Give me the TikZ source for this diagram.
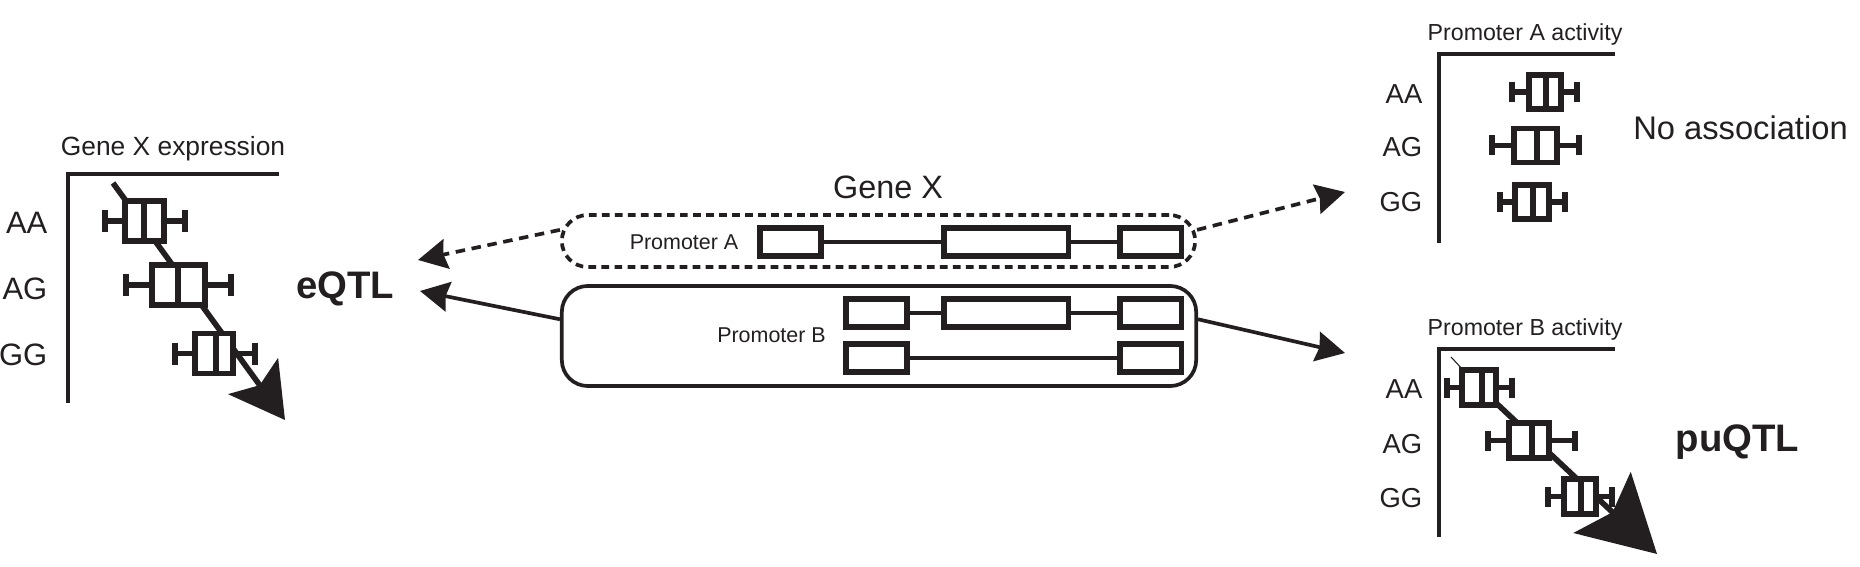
\documentclass[tikz,border=0pt]{standalone}
\usepackage{fontspec}
\setmainfont{Liberation Sans}
\usepackage{xcolor}
\usepackage{tikz}
\usetikzlibrary{arrows.meta}
\usetikzlibrary{positioning}

\definecolor{ink}{HTML}{231F20}

% y, whisker left, box left, median, box right, whisker right, half box, half cap
\newcommand{\bxplot}[8]{%
  \draw[fill=white] (#3,#1-#7) rectangle (#5,#1+#7);
  \draw (#4,#1-#7) -- (#4,#1+#7);
  \draw (#2,#1) -- (#3,#1) (#5,#1) -- (#6,#1);
  \draw (#2,#1-#8) -- (#2,#1+#8) (#6,#1-#8) -- (#6,#1+#8);
}

\begin{document}
\begin{tikzpicture}[x=0.01cm, y=-0.01cm, color=ink, line join=miter,
    exon/.style = {draw, line width=1.6pt, minimum width=0.614cm, minimum height=0.284cm, inner sep=0pt},
    exonlong/.style = {exon, minimum width=1.244cm},
    intron/.style = {line width=1.1pt},
    rbox/.style = {draw, line width=1.05pt, rounded corners=0.26cm, inner sep=0pt},
    dashline/.style = {dash pattern=on 2.2pt off 1.5pt},
    darrow/.style = {line width=1.05pt, dash pattern=on 2.7pt off 1.9pt, -{Stealth[length=0.29cm, width=0.30cm, inset=0.03cm]}},
    sarrow/.style = {line width=1.05pt, -{Stealth[length=0.29cm, width=0.30cm, inset=0.03cm]}},
    trend/.style = {line width=1.6pt},
    axis/.style = {line width=1.3pt},
    txt/.style = {inner sep=0pt},
    gtl/.style = {txt, font=\fontsize{8.8}{10}\selectfont},
    gtr/.style = {txt, font=\fontsize{7.8}{9}\selectfont},
    ttll/.style = {txt, font=\fontsize{7.5}{9}\selectfont},
    ttlr/.style = {txt, font=\fontsize{6.6}{8}\selectfont},
    plabel/.style = {txt, font=\fontsize{6.1}{7}\selectfont},
    res/.style = {txt, font=\fontsize{10.9}{13}\selectfont\bfseries},
    nores/.style = {txt, font=\fontsize{9.3}{11}\selectfont}]
    \useasboundingbox (0,0) rectangle (1860,567);

    % gene X with its two promoters
    \node[rbox, dashline, minimum width=6.33cm, minimum height=0.52cm] (promA) at (878.5,241) {};
    \node[rbox, minimum width=6.34cm, minimum height=1.00cm] (promB) at (879,336) {};
    \node[txt, font=\fontsize{9.2}{11}\selectfont, anchor=south] (gene) [above=0.14cm of promA, xshift=0.095cm] {Gene X};
    \node[plabel, anchor=base] (labA) at (684,250) {Promoter A};
    \node[plabel, anchor=base] (labB) at (771.5,342) {Promoter B};

    \node[exon] (A1) at (790.5,242) {};
    \node[exonlong] (A2) [right=1.17cm of A1] {};
    \node[exon] (A3) [right=0.46cm of A2] {};
    \node[exon] (B1a) at (876.5,313) {};
    \node[exonlong] (B1b) [right=0.31cm of B1a] {};
    \node[exon] (B1c) [right=0.46cm of B1b] {};
    \node[exon] (B2a) at (876.5,358) {};
    \node[exon] (B2c) [right=2.07cm of B2a] {};
    \draw[intron] (A1) -- (A2) -- (A3);
    \draw[intron] (B1a) -- (B1b) -- (B1c);
    \draw[intron] (B2a) -- (B2c);

    % arrows to the three readouts
    \coordinate (tipAL) at (418,260);
    \coordinate (tipBL) at (420,291);
    \coordinate (tipAR) at (1345,192);
    \coordinate (tipBR) at (1345,353);
    \draw[darrow] (promA.178) -- (tipAL);
    \draw[sarrow] (promB.177.5) -- (tipBL);
    \draw[darrow] (promA.2) -- (tipAR);
    \draw[sarrow] (promB.3.4) -- (tipBR);

    % gene expression panel
    \draw[axis] (279,174) -| (68,403);
    \node[ttll, anchor=base] (ttlE) at (173,156) {Gene X expression};
    \foreach \g/\yb in {AA/234, AG/300, GG/365}
        \node[gtl, anchor=base east] (E\g) at (48,\yb) {\g};
    \coordinate (eS) at (113,183);
    \coordinate (eT) at (285,420);
    \draw[trend, -{Stealth[length=0.54cm, width=0.61cm, inset=0.11cm]}] (eS) -- (eT);
    \begin{scope}[line width=1.45pt]
        \bxplot{221}{105}{125}{144}{164}{185}{20}{11}
        \bxplot{285}{126}{152}{178}{205}{231}{20}{11}
        \bxplot{353.5}{175}{195}{216}{233}{255}{20}{11}
    \end{scope}
    \node[res, anchor=base] (eqtl) at (345,298) {eQTL};

    % promoter A panel
    \draw[axis] (1615,54) -| (1439,243);
    \node[ttlr, anchor=base] (ttlA) at (1525,41) {Promoter A activity};
    \foreach \g/\yb in {AA/104, AG/157, GG/212}
        \node[gtr, anchor=base east] (PA\g) at (1423,\yb) {\g};
    \begin{scope}[line width=1.5pt]
        \bxplot{92}{1512}{1529}{1546}{1561}{1577}{17}{10}
        \bxplot{145.5}{1492}{1514}{1537}{1557}{1579}{17}{10}
        \bxplot{202}{1500}{1515}{1533}{1549}{1565}{17}{10}
    \end{scope}
    \node[nores, anchor=base] (noassoc) at (1740.5,140) {No association};

    % promoter B panel
    \draw[axis] (1615,349) -| (1439,537);
    \node[ttlr, anchor=base] (ttlB) at (1525,336) {Promoter B activity};
    \foreach \g/\yb in {AA/399, AG/453, GG/507}
        \node[gtr, anchor=base east] (PB\g) at (1423,\yb) {\g};
    \coordinate (pS) at (1451,357);
    \coordinate (pM) at (1479,387);
    \coordinate (pT) at (1657,554);
    \draw[line width=0.3pt] (pS) -- (pM);
    \draw[trend, -{Stealth[length=0.75cm, width=0.83cm, inset=0.14cm]}] (pM) -- (pT);
    \begin{scope}[line width=1.5pt]
        \bxplot{387.5}{1447}{1462}{1482}{1496}{1512}{17.5}{10}
        \bxplot{440.5}{1488}{1509}{1532}{1549}{1575}{17.5}{10}
        \bxplot{496.5}{1548}{1564}{1581}{1596}{1612}{17.5}{10}
    \end{scope}
    \node[res, anchor=base] (puqtl) at (1737.5,452) {puQTL};
\end{tikzpicture}
\end{document}
